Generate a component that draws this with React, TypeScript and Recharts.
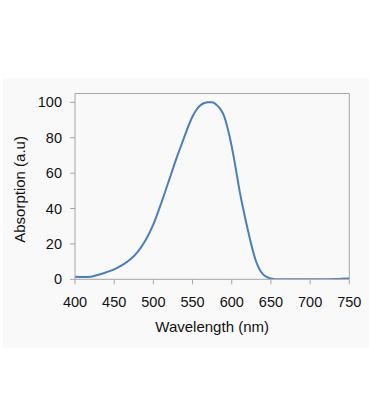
import { LineChart, Line, XAxis, YAxis, Label, ReferenceLine } from 'recharts'

const WAVELENGTH = [
  400, 410, 420, 430, 440, 450, 460, 470, 480, 490, 500, 510, 520, 530, 540, 545, 550, 555,
  560, 565, 570, 575, 580, 585, 590, 595, 600, 605, 610, 615, 620, 625, 630, 635, 640, 645,
  650, 660, 670, 680, 690, 700, 710, 720, 730, 740, 750,
]
const ABSORPTION = [
  1.5, 1.3, 1.5, 2.6, 4.0, 5.6, 8.0, 11, 15.5, 22, 31, 43, 56, 69, 81, 87, 92, 95.8,
  98.3, 99.6, 100, 100, 98.8, 96.5, 92.5, 85, 75, 63, 50, 39, 29, 19.5, 11.5, 6, 2.8, 1.2,
  0.5, 0, 0, 0, 0, 0, 0, 0, 0.1, 0.3, 0.5,
]
const X_TICKS = [400, 450, 500, 550, 600, 650, 700, 750]
const Y_TICKS = [0, 20, 40, 60, 80, 100]
const X_MAX = 750
const Y_MAX = 105

const FONT = '"Liberation Sans", Arial, sans-serif'
const FRAME = '#a6a6a6'
const LINE = '#4a7ebb'

const data = WAVELENGTH.map((w, i) => ({ wavelength: w, absorption: ABSORPTION[i] }))

const YTitle = (props: any) => {
  const { viewBox } = props
  const cx = viewBox.x + 20
  const cy = viewBox.y + viewBox.height / 2 + 3
  return (
    <text
      x={cx}
      y={cy}
      transform={`rotate(-90, ${cx}, ${cy})`}
      textAnchor="middle"
      dominantBaseline="central"
      fontSize={15}
      fill="#111"
    >
      Absorption (a.u)
    </text>
  )
}

export default function App() {
  return (
    <div style={{ position: 'absolute', left: 0, top: 0, width: 369, height: 420, background: '#fff', fontFamily: FONT }}>
      <div style={{ position: 'absolute', left: 3, top: 78, width: 366, height: 270, background: '#f9f9f9' }} />
      <div style={{ position: 'absolute', left: 0, top: 0 }}>
        <LineChart
          width={369}
          height={420}
          data={data}
          margin={{ top: 93.5, right: 19.7, bottom: 80.7, left: 0 }}
        >
          <XAxis
            dataKey="wavelength"
            type="number"
            domain={[400, X_MAX]}
            ticks={X_TICKS}
            height={60}
            tickSize={5}
            tickMargin={12}
            stroke={FRAME}
            tick={{ fill: '#111', fontSize: 14.5, fontFamily: FONT }}
          >
            <Label value="Wavelength (nm)" position="insideBottom" offset={7.8} fontSize={15} fill="#111" />
          </XAxis>
          <YAxis
            type="number"
            domain={[0, Y_MAX]}
            ticks={Y_TICKS}
            allowDataOverflow
            width={75}
            tickSize={5}
            tickMargin={8}
            stroke={FRAME}
            tick={{ fill: '#111', fontSize: 14.5, fontFamily: FONT }}
          >
            <Label content={YTitle} />
          </YAxis>
          <ReferenceLine y={Y_MAX} stroke={FRAME} strokeWidth={1} />
          <ReferenceLine x={X_MAX} stroke={FRAME} strokeWidth={1} />
          <Line
            type="monotone"
            dataKey="absorption"
            stroke={LINE}
            strokeWidth={2}
            dot={false}
            isAnimationActive={false}
          />
        </LineChart>
      </div>
    </div>
  )
}
